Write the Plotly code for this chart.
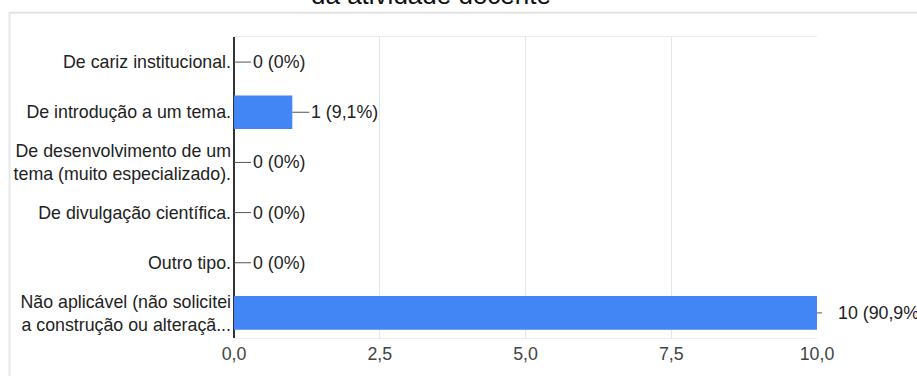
import plotly.graph_objects as go

# Response counts per answer option
categories = [
    "De cariz institucional.",
    "De introdução a um tema.",
    "De desenvolvimento de um<br>tema (muito especializado).",
    "De divulgação científica.",
    "Outro tipo.",
    "Não aplicável (não solicitei<br>a construção ou alteraçã...",
]
counts = [0, 1, 0, 0, 0, 10]
x_ticks = [0, 2.5, 5, 7.5, 10]

title_text = "da atividade docente"

W, H = 917, 376
ML, MR, MT, MB = 234, 100, 37, 36
FONT = "Arial, Liberation Sans, sans-serif"
FS = 17.8
TEXT = "#222222"
BLUE = "#4285F4"

total = sum(counts)


def fmt_label(v):
    pct = round(100 * v / total, 1)
    pct_s = (f"{pct:.1f}".rstrip("0").rstrip(".")).replace(".", ",")
    return f"{v} ({pct_s}%)"


fig = go.Figure(
    go.Bar(
        x=counts,
        y=categories,
        orientation="h",
        marker=dict(color=BLUE, line=dict(width=0)),
        hoverinfo="skip",
    )
)

# Value labels with short leader stems
for cat, v in zip(categories, counts):
    big = v == max(counts)
    fig.add_annotation(
        x=v,
        y=cat,
        xref="x",
        yref="y",
        text=fmt_label(v),
        showarrow=True,
        arrowhead=0,
        arrowwidth=1,
        arrowcolor="#555555",
        ax=19 if big else 17,
        ay=0,
        startstandoff=14 if big else 0,
        xanchor="left",
        yanchor="middle",
        font=dict(family=FONT, size=FS, color=TEXT),
    )

# Partially visible heading above the card
fig.add_annotation(
    x=(W / 2 - 28 - ML) / (W - ML - MR),
    y=1,
    xref="paper",
    yref="paper",
    yshift=MT - 12,
    text=title_text,
    showarrow=False,
    xanchor="center",
    yanchor="bottom",
    font=dict(family=FONT, size=26, color="#111111"),
)

# Card outline (top and left edges)
pw, ph = W - ML - MR, H - MT - MB
px = lambda p: (p - ML) / pw
py = lambda p: 1 - (p - MT) / ph
fig.add_shape(type="line", xref="paper", yref="paper",
              x0=px(9), x1=px(W + 5), y0=py(12.5), y1=py(12.5),
              line=dict(color="#e3e3e3", width=2))
fig.add_shape(type="line", xref="paper", yref="paper",
              x0=px(9.5), x1=px(9.5), y0=py(12.5), y1=py(H + 5),
              line=dict(color="#e8e8e8", width=2))

fig.update_layout(
    width=W,
    height=H,
    margin=dict(l=ML, r=MR, t=MT, b=MB),
    paper_bgcolor="white",
    plot_bgcolor="white",
    separators=",.",
    bargap=0.33,
    showlegend=False,
    font=dict(family=FONT, size=FS, color=TEXT),
    xaxis=dict(
        range=[0, 10],
        tickvals=x_ticks,
        tickformat=".1f",
        showgrid=True,
        gridcolor="#e6e6e6",
        gridwidth=1,
        zeroline=True,
        zerolinecolor="#333333",
        zerolinewidth=2,
        showline=True,
        linecolor="#ececec",
        linewidth=1,
        mirror=True,
        ticks="",
        tickfont=dict(family=FONT, size=FS, color="#444444"),
        fixedrange=True,
    ),
    yaxis=dict(
        autorange="reversed",
        showgrid=False,
        zeroline=False,
        showline=False,
        ticks="",
        ticklabelstandoff=2,
        tickfont=dict(family=FONT, size=FS, color=TEXT),
        fixedrange=True,
    ),
)

fig.write_html("out.html", config={"displayModeBar": False})
